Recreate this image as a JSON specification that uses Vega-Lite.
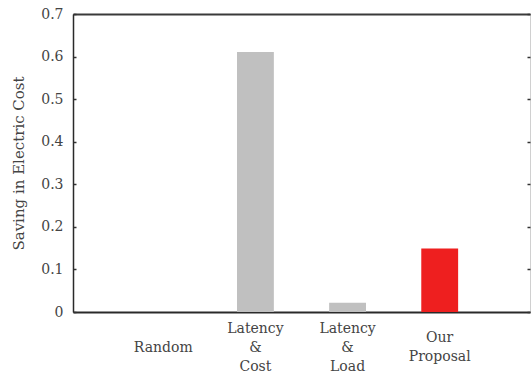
{
  "$schema": "https://vega.github.io/schema/vega-lite/v6.json",
  "width": 457,
  "height": 298,
  "autosize": {"type": "none"},
  "padding": {"left": 73, "top": 14, "right": 1, "bottom": 60},
  "background": "white",
  "config": {
    "font": "DejaVu Serif",
    "view": {"stroke": "#d0d0d0", "strokeWidth": 1},
    "axis": {"labelFont": "DejaVu Serif", "titleFont": "DejaVu Serif"}
  },
  "data": {
    "values": [
      {"method": "Random", "saving": 0},
      {"method": "Latency|&|Cost", "saving": 0.611},
      {"method": "Latency|&|Load", "saving": 0.022},
      {"method": "Our|Proposal", "saving": 0.149}
    ]
  },
  "layer": [
    {
      "mark": {"type": "bar"},
      "encoding": {
        "x": {
          "field": "method",
          "type": "nominal",
          "sort": null,
          "scale": {"paddingInner": 0.6, "paddingOuter": 0.78},
          "axis": {
            "title": null,
            "labelAngle": 0,
            "ticks": false,
            "domain": true,
            "domainColor": "#2a2a2a",
            "domainWidth": 2,
            "labelExpr": "split(datum.label, '|')",
            "labelBaseline": "middle",
            "labelLineHeight": 19,
            "labelPadding": {
              "condition": [
                {"test": "datum.value === 'Random'", "value": 35},
                {"test": "datum.value === 'Our|Proposal'", "value": 25}
              ],
              "value": 16
            },
            "labelFontSize": 14,
            "labelColor": "#444444",
            "labelLimit": 200
          }
        },
        "y": {
          "field": "saving",
          "type": "quantitative",
          "scale": {"domain": [0, 0.7], "nice": false, "zero": true},
          "axis": {
            "title": "Saving in Electric Cost",
            "titleFontSize": 15,
            "titleFontWeight": "normal",
            "titleColor": "#444444",
            "titlePadding": 14,
            "values": [0, 0.1, 0.2, 0.3, 0.4, 0.5, 0.6, 0.7],
            "format": "~g",
            "grid": false,
            "domain": true,
            "domainColor": "#2a2a2a",
            "domainWidth": 1.5,
            "ticks": true,
            "tickSize": -3,
            "tickColor": "#333333",
            "tickWidth": 1.5,
            "labelPadding": 13,
            "labelFontSize": 14,
            "labelColor": "#444444"
          }
        },
        "color": {
          "field": "method",
          "type": "nominal",
          "sort": null,
          "scale": {
            "domain": ["Random", "Latency|&|Cost", "Latency|&|Load", "Our|Proposal"],
            "range": ["#c0c0c0", "#c0c0c0", "#c0c0c0", "#ee1f1f"]
          },
          "legend": null
        }
      }
    },
    {
      "mark": {"type": "bar", "opacity": 0},
      "encoding": {
        "x": {
          "field": "method",
          "type": "nominal",
          "sort": null,
          "axis": {
            "orient": "top",
            "title": null,
            "labels": false,
            "ticks": false,
            "domain": true,
            "domainColor": "#3a3a3a",
            "domainWidth": 2
          }
        },
        "y": {
          "field": "saving",
          "type": "quantitative",
          "axis": {
            "orient": "right",
            "title": null,
            "labels": false,
            "values": [0, 0.1, 0.2, 0.3, 0.4, 0.5, 0.6, 0.7],
            "grid": false,
            "domain": false,
            "ticks": true,
            "tickSize": -3,
            "tickColor": "#333333",
            "tickWidth": 1.5
          }
        }
      }
    }
  ],
  "resolve": {"axis": {"x": "independent", "y": "independent"}}
}
